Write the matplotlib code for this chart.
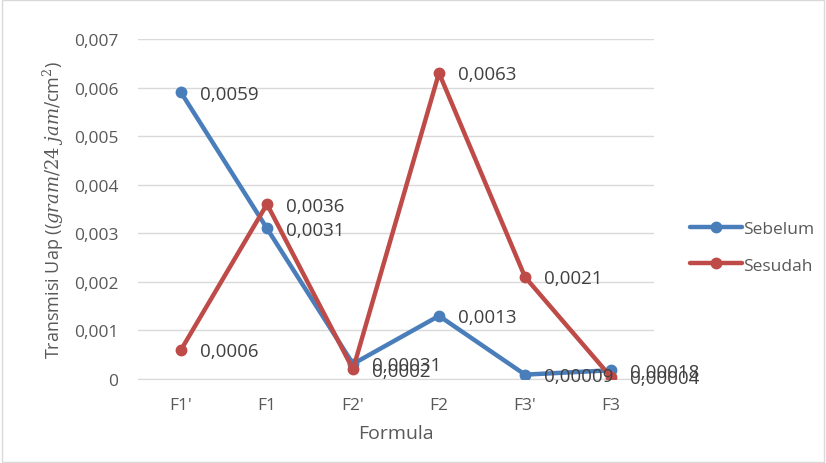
import matplotlib
matplotlib.use("Agg")
import matplotlib.pyplot as plt
from matplotlib.ticker import FuncFormatter, MultipleLocator
from matplotlib.patches import Rectangle

categories = ["F1'", "F1", "F2'", "F2", "F3'", "F3"]
sebelum = [0.0059, 0.0031, 0.00031, 0.0013, 0.00009, 0.00018]
sesudah = [0.0006, 0.0036, 0.0002, 0.0063, 0.0021, 0.00004]
sebelum_labels = ["0,0059", "0,0031", "0,00031", "0,0013", "0,00009", "0,00018"]
sesudah_labels = ["0,0006", "0,0036", "0,0002", "0,0063", "0,0021", "0,00004"]

plt.rcParams["font.family"] = ["Open Sans", "DejaVu Sans"]
plt.rcParams["mathtext.fontset"] = "dejavuserif"

text_color = "#595959"
blue = "#4a7ebb"
red = "#be4b48"

fig = plt.figure(figsize=(8.26, 4.64), dpi=100)
ax = fig.add_axes([138 / 826, 1 - 380 / 464, 516 / 826, 340 / 464])

x = list(range(len(categories)))
ax.plot(x, sebelum, color=blue, lw=3.2, marker="o", ms=7.5, label="Sebelum",
        solid_capstyle="round", zorder=3)
ax.plot(x, sesudah, color=red, lw=3.2, marker="o", ms=7.5, label="Sesudah",
        solid_capstyle="round", zorder=3)

for xi, v, lab in zip(x, sebelum, sebelum_labels):
    ax.annotate(lab, (xi, v), xytext=(14, -1), textcoords="offset points",
                va="center", ha="left", fontsize=13.5, color="#404040", zorder=4)
for xi, v, lab in zip(x, sesudah, sesudah_labels):
    ax.annotate(lab, (xi, v), xytext=(14, -1), textcoords="offset points",
                va="center", ha="left", fontsize=13.5, color="#404040", zorder=4)

ax.set_xlim(-0.5, 5.5)
ax.set_ylim(0, 0.007)
ax.set_xticks(x)
ax.set_xticklabels(categories)
ax.yaxis.set_major_locator(MultipleLocator(0.001))
ax.yaxis.set_major_formatter(FuncFormatter(
    lambda v, p: "0" if abs(v) < 1e-12 else f"{v:.3f}".replace(".", ",")))

ax.grid(axis="y", color="#d9d9d9", lw=1)
ax.set_axisbelow(True)
for s in ["top", "right", "left"]:
    ax.spines[s].set_visible(False)
ax.spines["bottom"].set_color("#d9d9d9")
ax.tick_params(axis="both", length=0, colors=text_color, labelsize=12.5)
ax.tick_params(axis="x", pad=13)
ax.tick_params(axis="y", pad=14)

ax.set_xlabel("Formula", fontsize=14, color=text_color, labelpad=8)
ax.set_ylabel(r"Transmisi Uap (($gram/24\ jam/$cm$^2$)", fontsize=13,
              color=text_color, labelpad=6)

leg = fig.legend(loc="center left", bbox_to_anchor=(674 / 826, 1 - 248 / 464),
                 frameon=False, fontsize=12.5, labelspacing=1.2,
                 handlelength=3.0, handletextpad=0.1)
for t in leg.get_texts():
    t.set_color(text_color)

fig.patches.append(Rectangle((0.002, 0.002), 0.996, 0.996, transform=fig.transFigure,
                             fill=False, edgecolor="#d9d9d9", lw=1))

fig.savefig("out.png", dpi=100)
